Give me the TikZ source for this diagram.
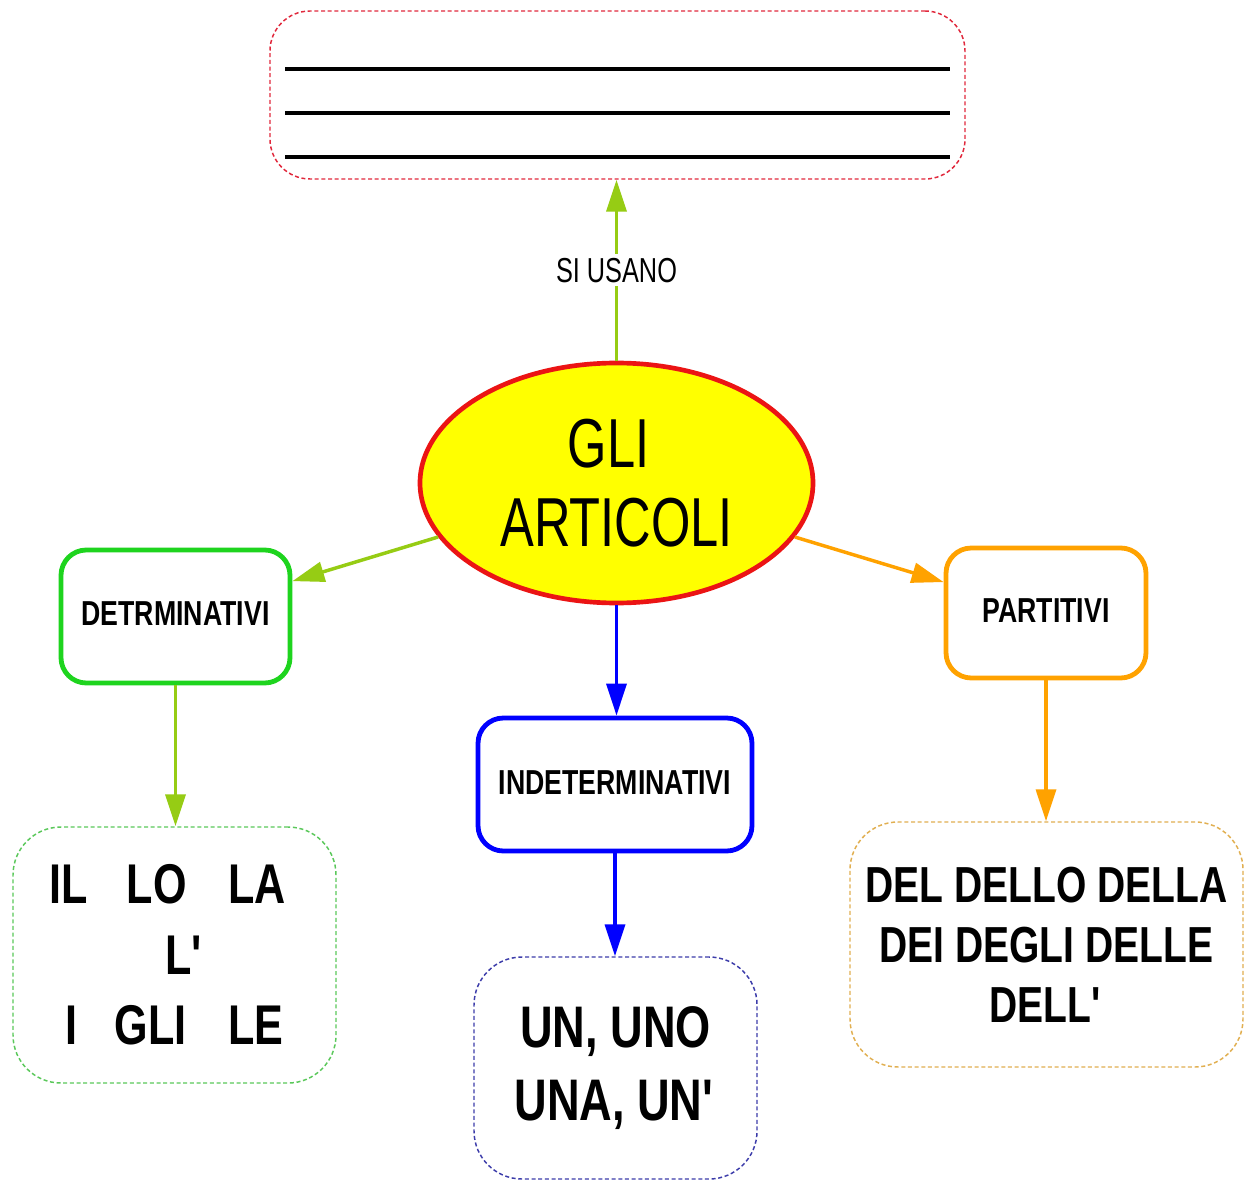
\documentclass[tikz,border=0pt]{standalone}
\usepackage{fontspec}
\setmainfont{Liberation Sans}
\newfontfamily\cond[FakeStretch=0.77]{Liberation Sans}
\newfontfamily\condr[FakeStretch=0.73]{Liberation Sans}
\usetikzlibrary{shapes.geometric,arrows.meta}
\definecolor{cRed}{RGB}{235,20,20}
\definecolor{cYel}{RGB}{255,255,0}
\definecolor{cLime}{RGB}{150,204,20}
\definecolor{cGreen}{RGB}{30,212,30}
\definecolor{cBlue}{RGB}{0,0,255}
\definecolor{cOrange}{RGB}{255,162,0}
\definecolor{dRed}{RGB}{225,40,60}
\definecolor{dGreen}{RGB}{90,200,90}
\definecolor{dBlue}{RGB}{60,60,170}
\definecolor{dOrange}{RGB}{225,175,80}
\tikzset{
  conn/.style={line width=2.6pt,-{Triangle[length=24pt,width=15pt]}},
  catbox/.style={draw,rounded corners=19pt,line width=3.6pt,fill=white,
    minimum height=99.75pt,inner sep=0pt,align=center,
    font=\cond\bfseries\fontsize{26}{30}\selectfont},
  listbox/.style={draw,rounded corners=36pt,line width=1.1pt,
    dash pattern=on 3pt off 2pt,inner sep=0pt,align=center},
  rule/.style={line width=2.6pt},
}
\begin{document}
\begin{tikzpicture}[x=0.75pt,y=-0.75pt]
\useasboundingbox (0,0) rectangle (1249,1180);
\fill[white] (0,0) rectangle (1249,1180);

% central ellipse
\node[ellipse,draw=cRed,line width=3.5pt,fill=cYel,minimum width=294.75pt,
  minimum height=180pt,inner sep=0pt,align=center,
  font=\condr\fontsize{52}{59}\selectfont] (main) at (616.5,483)
  {GLI\hspace*{12pt}\\ARTICOLI};

% top box with writing lines
\node[listbox,draw=dRed,rounded corners=30pt,minimum width=521.25pt,minimum height=126pt] (uses) at (617.5,95) {};
\draw[rule] (285,69) -- (950,69);
\draw[rule] (285,113) -- (950,113);
\draw[rule] (285,157) -- (950,157);

\draw[conn,cLime] (main.north) -- node[fill=white,text=black,inner sep=3pt,
  font=\condr\fontsize{26}{30}\selectfont] {SI USANO} (main.north |- uses.south);

% category boxes
\node[catbox,draw=cGreen,minimum width=171.75pt] (det) at (175.5,616.5) {\raisebox{5pt}{DETRMINATIVI}};
\node[catbox,draw=cBlue,minimum width=205.5pt] (ind) at (615,784.5) {\raisebox{3.5pt}{INDETERMINATIVI}};
\node[catbox,draw=cOrange,minimum width=150pt,minimum height=97.5pt] (par) at (1046,613) {\raisebox{4pt}{PARTITIVI}};

% list boxes
\node[listbox,draw=dGreen,minimum width=242.25pt,minimum height=192pt,
  font=\cond\bfseries\fontsize{42}{53}\selectfont] (detl) at (174.5,955)
  {IL\hspace{29pt}LO\hspace{31pt}LA\hspace*{10pt}\\\hspace*{16pt}L\textquotesingle\\I\hspace{28pt}GLI\hspace{31pt}LE};
\node[listbox,draw=dBlue,minimum width=212.25pt,minimum height=166.5pt,
  font=\cond\bfseries\fontsize{44}{55}\selectfont] (indl) at (615.5,1068)
  {UN, UNO\\UNA, UN\textquotesingle};
\node[listbox,draw=dOrange,minimum width=294.75pt,minimum height=183.75pt,
  font=\cond\bfseries\fontsize{38}{45}\selectfont] (parl) at (1046.5,944.5)
  {DEL DELLO DELLA\\DEI DEGLI DELLE\\DELL\textquotesingle};

% connectors
\draw[conn,cLime] (main) -- (det);
\draw[conn,cBlue] (main.south) -- (main.south |- ind.north);
\draw[conn,cOrange] (main) -- (par);
\draw[conn,cLime] (det.south) -- (det.south |- detl.north);
\draw[conn,cBlue] (ind.south) -- (ind.south |- indl.north);
\draw[conn,cOrange] (par.south) -- (par.south |- parl.north);
\end{tikzpicture}
\end{document}
